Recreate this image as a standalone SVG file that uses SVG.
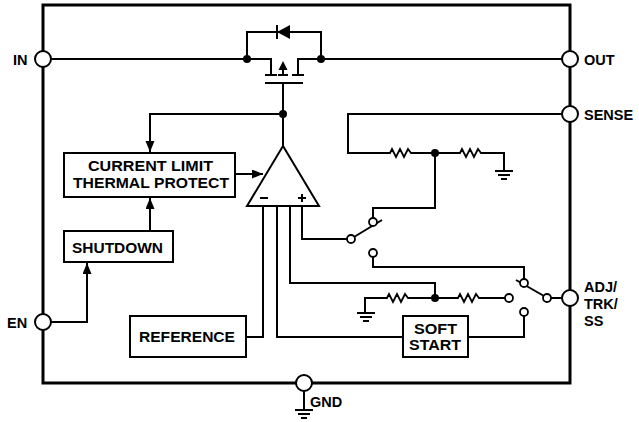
<svg xmlns="http://www.w3.org/2000/svg" width="639" height="422" viewBox="0 0 639 422">
<style>
.w{fill:none;stroke:#000;stroke-width:2;stroke-linejoin:miter}
.box{fill:#fff;stroke:#000;stroke-width:2}
.pin{fill:#fff;stroke:#000;stroke-width:2}
.sw{fill:#fff;stroke:#000;stroke-width:1.8}
.dot{fill:#000}
.t{font-family:"Liberation Sans",Arial,sans-serif;font-weight:bold;font-size:14.5px;fill:#000}
.p{font-family:"Liberation Sans",Arial,sans-serif;font-weight:bold;font-size:14.5px;fill:#000}
</style>
<defs>
<marker id="arr" markerUnits="userSpaceOnUse" markerWidth="12" markerHeight="10" refX="11" refY="4.5" orient="auto">
<path d="M0,0 L11,4.5 L0,9 z" fill="#000"/>
</marker>
<path id="res" d="M0,0 l2,0 l2,-4 l4,8 l4,-8 l4,8 l4,-8 l3,4 l2,0" fill="none" stroke="#000" stroke-width="1.8"/>
<g id="gnd" fill="none" stroke="#000" stroke-width="2">
<line x1="-9" y1="0" x2="9" y2="0"/>
<line x1="-6" y1="4" x2="6" y2="4"/>
<line x1="-3" y1="8" x2="3" y2="8"/>
</g>
</defs>

<!-- main outline -->
<rect x="43" y="5" width="527" height="378" fill="none" stroke="#000" stroke-width="3"/>

<g id="connectors">
<!-- IN to OUT with MOSFET -->
<path class="w" d="M51,59 H271 V75"/>
<path class="w" d="M298,75 V59 H562"/>
<path class="w" d="M247,59 V32 H321 V59"/>
<path class="w" d="M265,75 H277 M278,75 H288 M292,75 H304"/>
<path class="w" d="M283,75 V68"/>
<polygon points="283,61 278.5,70 287.5,70" fill="#000"/>
<path class="w" d="M265,83 H303"/>
<path class="w" d="M283,83 V146"/>
<!-- diode -->
<polygon points="277,32 290,25 290,39" fill="#000"/>
<path class="w" d="M277,25 V39"/>
<!-- feedback to current limit -->
<path class="w" d="M283,114 H150 V152" marker-end="url(#arr)"/>
<path class="w" d="M235,174 H263" marker-end="url(#arr)"/>
<path class="w" d="M150,231 V198" marker-end="url(#arr)"/>
<path class="w" d="M51,322 H87 V263" marker-end="url(#arr)"/>
<!-- opamp legs -->
<path class="w" d="M263,206 V337 H246"/>
<path class="w" d="M277,206 V337 H403"/>
<path class="w" d="M290,206 V283 H435 V298"/>
<path class="w" d="M302,206 V239 H347"/>
<!-- sense divider -->
<path class="w" d="M562,114 H348 V153 H388"/>
<use href="#res" x="388" y="153"/>
<path class="w" d="M413,153 H458"/>
<use href="#res" x="458" y="153"/>
<path class="w" d="M483,153 H504 V171"/>
<use href="#gnd" x="504" y="171"/>
<path class="w" d="M435,153 V208 H373 V218"/>
<!-- switch 1 -->
<path class="w" d="M354,237 L382,220"/>
<path class="w" d="M373,257 V267 H524 V279"/>
<!-- bottom divider -->
<path class="w" d="M365,313 V298 H385"/>
<use href="#res" x="385" y="298"/>
<path class="w" d="M410,298 H456"/>
<use href="#res" x="456" y="298"/>
<path class="w" d="M481,298 H505"/>
<use href="#gnd" x="366" y="313"/>
<!-- switch 2 -->
<path class="w" d="M516,280 L544,296"/>
<path class="w" d="M551,298 H562"/>
<path class="w" d="M524,316 V337 H468"/>
<!-- GND -->
<path class="w" d="M304,391 V410"/>
<use href="#gnd" x="304" y="410"/>
</g>

<!-- dots -->
<circle class="dot" cx="247" cy="59" r="4"/>
<circle class="dot" cx="321" cy="59" r="4"/>
<circle class="dot" cx="283" cy="114" r="4"/>
<circle class="dot" cx="435" cy="153" r="4"/>
<circle class="dot" cx="435" cy="298" r="4"/>

<!-- switch contacts -->
<circle class="sw" cx="351" cy="239" r="4"/>
<circle class="sw" cx="373" cy="222" r="4"/>
<circle class="sw" cx="373" cy="253" r="4"/>
<circle class="sw" cx="509" cy="298" r="4"/>
<circle class="sw" cx="524" cy="283" r="4"/>
<circle class="sw" cx="524" cy="312" r="4"/>
<circle class="sw" cx="547" cy="298" r="4"/>

<g id="opamp">
<polygon points="283,146 247,206 319,206" fill="#fff" stroke="#000" stroke-width="2"/>
<path class="w" d="M260,198 H268 M298,198 H306 M302,194 V202"/>
</g>

<g id="current-limit">
<rect class="box" x="64" y="153" width="171" height="44"/>
<text class="t" x="150.5" y="171" text-anchor="middle" textLength="125" lengthAdjust="spacingAndGlyphs">CURRENT LIMIT</text>
<text class="t" x="151" y="188" text-anchor="middle" textLength="156" lengthAdjust="spacingAndGlyphs">THERMAL PROTECT</text>
</g>
<g id="shutdown">
<rect class="box" x="64" y="231" width="109" height="31"/>
<text class="t" x="117.5" y="253" text-anchor="middle" textLength="91" lengthAdjust="spacingAndGlyphs">SHUTDOWN</text>
</g>
<g id="reference">
<rect class="box" x="130" y="316" width="116" height="41"/>
<text class="t" x="187" y="342" text-anchor="middle" textLength="96" lengthAdjust="spacingAndGlyphs">REFERENCE</text>
</g>
<g id="soft-start">
<rect class="box" x="403" y="316" width="65" height="41"/>
<text class="t" x="435.5" y="334" text-anchor="middle" textLength="43" lengthAdjust="spacingAndGlyphs">SOFT</text>
<text class="t" x="435" y="350" text-anchor="middle" textLength="52" lengthAdjust="spacingAndGlyphs">START</text>
</g>

<g id="pin-in"><circle class="pin" cx="43" cy="59" r="8"/><text class="p" x="13" y="65">IN</text></g>
<g id="pin-en"><circle class="pin" cx="43" cy="322" r="8"/><text class="p" x="7" y="328">EN</text></g>
<g id="pin-out"><circle class="pin" cx="570" cy="59" r="8"/><text class="p" x="584" y="65">OUT</text></g>
<g id="pin-sense"><circle class="pin" cx="570" cy="114" r="8"/><text class="p" x="584" y="120">SENSE</text></g>
<g id="pin-adj"><circle class="pin" cx="570" cy="298" r="8"/>
<text class="p" x="584" y="292">ADJ/</text>
<text class="p" x="584" y="309">TRK/</text>
<text class="p" x="584" y="326">SS</text></g>
<g id="pin-gnd"><circle class="pin" cx="304" cy="383" r="8"/><text class="p" x="310" y="407">GND</text></g>
</svg>
